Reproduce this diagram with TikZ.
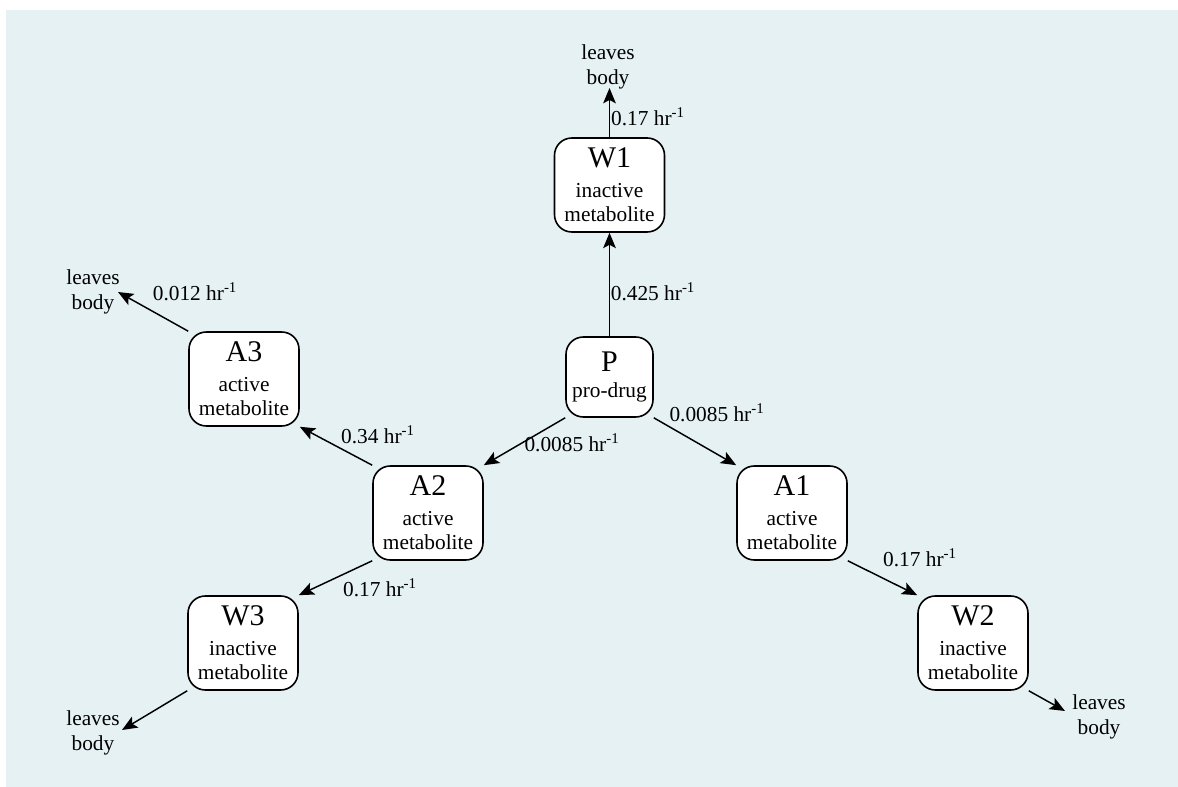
\documentclass[tikz,border=0pt]{standalone}
\usepackage{fontspec}
\setmainfont{Liberation Serif}
\newfontfamily\tms{Liberation Serif}
\usetikzlibrary{arrows.meta}
\definecolor{bgc}{RGB}{229,241,243}
\newcommand\bxt[2]{{\fontsize{22.5}{24}\selectfont #1}\\[4.5pt]#2}
\newcommand\rate[1]{#1 hr\textsuperscript{-1}}
\begin{document}
\begin{tikzpicture}[x=0.75pt,y=-0.75pt,
  box/.style={draw=black, line width=1.2pt, fill=white, rounded corners=13pt,
    align=center, inner sep=0pt, minimum width=82.5pt, minimum height=70.5pt,
    font=\tms\fontsize{16}{18}\selectfont},
  pbox/.style={box, minimum width=65.25pt, minimum height=60pt},
  lab/.style={font=\tms\fontsize{16}{18}\selectfont, inner sep=0pt},
  leave/.style={font=\tms\fontsize{16}{18.75}\selectfont, align=center, inner sep=0pt},
  arr/.style={line width=1.1pt, -{Stealth[length=11.5pt,width=9.5pt,inset=2.5pt]}}]
\useasboundingbox (0,0) rectangle (1178,787);
\fill[bgc] (6,10) rectangle (1178,787);

% nodes
\node[box] (W1) at (609.5,185) {\bxt{W1}{inactive\\metabolite}};
\node[pbox] (P) at (609.5,377) {{\fontsize{22.5}{24}\selectfont P}\\[1pt]pro-drug};
\node[box] (A3) at (244,379) {\bxt{A3}{active\\metabolite}};
\node[box] (A2) at (428,513) {\bxt{A2}{active\\metabolite}};
\node[box] (A1) at (792,513) {\bxt{A1}{active\\metabolite}};
\node[box] (W3) at (243,643) {\bxt{W3}{inactive\\metabolite}};
\node[box] (W2) at (973,643) {\bxt{W2}{inactive\\metabolite}};

% leaves body texts
\node[leave] (LW1) at (608,67) {leaves\\body};
\node[leave] (LA3) at (93,292) {leaves\\body};
\node[leave] (LW3) at (93,733) {leaves\\body};
\node[leave] (LW2) at (1099,717) {leaves\\body};
\coordinate (tW1) at (609.5,88);
\coordinate (tA3) at (118,292);
\coordinate (tW3) at (122,730);
\coordinate (tW2) at (1065,711);

% connectors
\draw[arr] (P.north) -- (W1.south);
\draw[arr] (W1.north) -- (tW1);
\draw[arr] (P.south west) -- (A2.north east);
\draw[arr] (P.south east) -- (A1.north west);
\draw[arr] (A2.north west) -- (A3.south east);
\draw[arr] (A3.north west) -- (tA3);
\draw[arr] (A2.south west) -- (W3.north east);
\draw[arr] (W3.south west) -- (tW3);
\draw[arr] (A1.south east) -- (W2.north west);
\draw[arr] (W2.south east) -- (tW2);

% rate labels
\node[lab] (r1) at (653,292) {\rate{0.425}};
\node[lab] (r2) at (648,117) {\rate{0.17}};
\node[lab] (r3) at (572,443) {\rate{0.0085}};
\node[lab] (r4) at (717,413) {\rate{0.0085}};
\node[lab] (r5) at (378,435) {\rate{0.34}};
\node[lab] (r6) at (195,292) {\rate{0.012}};
\node[lab] (r7) at (380,588) {\rate{0.17}};
\node[lab] (r8) at (920,558) {\rate{0.17}};
\end{tikzpicture}
\end{document}
